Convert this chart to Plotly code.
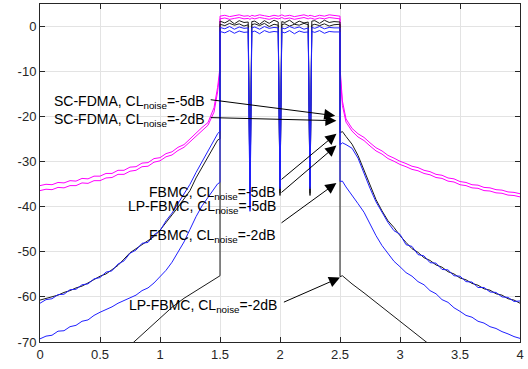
import numpy as np
import plotly.graph_objects as go

# ---------------- data ----------------
x_left = [0.0, 0.05, 0.1, 0.15, 0.2, 0.25, 0.3, 0.35, 0.4, 0.45, 0.5, 0.55, 0.6, 0.65, 0.7, 0.75,
          0.8, 0.85, 0.9, 0.95, 1.0, 1.05, 1.1, 1.15, 1.2, 1.25, 1.3, 1.35, 1.4, 1.45, 1.48, 1.5]
x_right = [2.5, 2.52, 2.55, 2.6, 2.65, 2.7, 2.75, 2.8, 2.85, 2.9, 2.95, 3.0, 3.05, 3.1, 3.15, 3.2,
           3.25, 3.3, 3.35, 3.4, 3.45, 3.5, 3.55, 3.6, 3.65, 3.7, 3.75, 3.8, 3.85, 3.9, 3.95, 4.0]
x_inband = [1.5, 1.54, 1.58, 1.62, 1.66, 1.70, 1.735, 1.75, 1.765, 1.79, 1.83, 1.87, 1.91, 1.95, 1.985,
            2.0, 2.015, 2.04, 2.08, 2.12, 2.16, 2.2, 2.235, 2.25, 2.265, 2.29, 2.33, 2.37, 2.41, 2.45, 2.5]

# SC-FDMA, CL_noise = -5 dB
scfdma5_left = [-35.3, -35.0, -35.1, -34.6, -34.7, -34.2, -34.3, -33.7, -33.8, -33.2, -33.2, -32.6, -32.6,
                -31.9, -31.9, -31.2, -31.1, -30.3, -30.2, -29.3, -29.1, -28.2, -27.8, -26.8, -26.2, -24.9,
                -23.6, -22.4, -21.3, -18.0, -13.5, -9.0]
scfdma5_in = [2.3, 2.5, 2.2, 2.4, 2.6, 2.3, 2.4, 2.2, 2.5, 2.3, 2.6, 2.4, 2.2, 2.5, 2.3, 2.4, 2.6, 2.3,
              2.5, 2.2, 2.4, 2.6, 2.3, 2.5, 2.4, 2.2, 2.5, 2.3, 2.6, 2.4, 2.3]
scfdma5_right = [-9.0, -16.5, -20.5, -22.6, -23.8, -24.6, -25.8, -26.9, -27.6, -28.6, -29.2, -29.9, -30.4,
                 -31.0, -31.3, -31.9, -32.2, -32.8, -33.0, -33.6, -33.8, -34.4, -34.6, -35.1, -35.2, -35.7,
                 -35.8, -36.2, -36.3, -36.7, -36.8, -37.1]

# SC-FDMA, CL_noise = -2 dB
scfdma2_left = [-36.4, -36.1, -36.2, -35.7, -35.8, -35.3, -35.3, -34.7, -34.8, -34.2, -34.2, -33.6, -33.5,
                -32.8, -32.8, -32.1, -31.9, -31.1, -31.0, -30.1, -29.8, -28.9, -28.5, -27.5, -26.8, -25.6,
                -24.3, -23.0, -21.9, -19.0, -14.5, -10.0]
scfdma2_in = [1.7, 1.9, 1.6, 1.8, 2.0, 1.7, 1.8, 1.6, 1.9, 1.7, 2.0, 1.8, 1.6, 1.9, 1.7, 1.8, 2.0, 1.7,
              1.9, 1.6, 1.8, 2.0, 1.7, 1.9, 1.8, 1.6, 1.9, 1.7, 2.0, 1.8, 1.7]
scfdma2_right = [-10.0, -17.5, -21.2, -23.2, -24.5, -25.3, -26.5, -27.6, -28.3, -29.3, -29.9, -30.6, -31.1,
                 -31.7, -32.0, -32.6, -32.9, -33.5, -33.7, -34.3, -34.5, -35.1, -35.3, -35.8, -35.9, -36.4,
                 -36.5, -36.9, -37.0, -37.4, -37.5, -37.8]

# FBMC, CL_noise = -5 dB
fbmc5_left = [-60.7, -60.3, -59.9, -59.6, -59.0, -58.6, -58.0, -57.6, -56.9, -56.2, -55.4, -54.9, -53.9,
              -53.0, -51.6, -50.2, -49.3, -48.4, -47.6, -46.6, -45.2, -43.6, -41.8, -40.1, -38.3, -36.4,
              -33.6, -31.2, -28.9, -26.7, -25.2, -24.9]
fbmc5_in = [1.2, 0.8, 1.4, 0.6, 1.3, 0.9, 1.0, -37.0, 1.1, 1.2, 0.5, 1.3, 0.7, 1.4, 1.0, -37.5, 1.1, 0.9,
            1.4, 0.6, 1.2, 0.8, 1.0, -37.5, 1.2, 1.3, 0.7, 1.4, 0.9, 1.1, 1.0]
fbmc5_right = [-23.6, -23.3, -24.4, -26.1, -28.6, -32.0, -35.4, -38.4, -40.9, -43.1, -44.6, -46.4, -47.9,
               -49.3, -50.1, -51.3, -51.9, -52.9, -53.4, -54.4, -54.9, -55.8, -56.2, -57.0, -57.4, -58.2,
               -58.5, -59.3, -59.6, -60.4, -60.7, -61.4]

# LP-FBMC, CL_noise = -5 dB
lpfbmc5_left = [-61.4, -60.6, -60.4, -59.5, -59.4, -58.4, -58.3, -57.3, -57.1, -56.0, -55.7, -54.5, -54.2,
                -52.7, -52.0, -50.3, -49.6, -48.1, -47.9, -46.2, -45.3, -43.1, -41.4, -39.2, -37.3, -35.0,
                -32.4, -30.0, -27.6, -25.3, -23.8, -23.2]
lpfbmc5_in = [-0.2, -0.5, 0.0, -0.6, -0.1, -0.4, -0.3, -40.5, -0.3, -0.1, -0.6, 0.0, -0.4, -0.2, -0.3,
              -35.5, -0.3, -0.5, 0.0, -0.4, -0.1, -0.6, -0.3, -35.5, -0.2, -0.4, 0.0, -0.5, -0.2, -0.3, -0.3]
lpfbmc5_right = [-26.3, -25.8, -26.2, -27.0, -29.2, -32.6, -35.9, -38.9, -41.2, -43.5, -45.3, -46.1, -48.4,
                 -48.8, -50.6, -50.9, -52.4, -52.5, -53.9, -54.0, -55.3, -55.4, -56.6, -56.7, -57.9, -57.9,
                 -58.9, -59.0, -60.0, -60.1, -61.0, -60.9]

# FBMC, CL_noise = -2 dB
fbmc2_left = [-69.3, -68.7, -68.5, -67.6, -67.5, -66.6, -66.3, -65.4, -65.1, -64.1, -63.4, -62.8, -62.2,
              -61.4, -60.8, -60.1, -59.6, -58.6, -58.0, -56.9, -55.6, -54.1, -52.3, -50.2, -47.8, -45.0,
              -42.2, -39.8, -37.8, -36.1, -34.9, -34.6]
fbmc2_in = [-1.1, -1.4, -0.9, -1.5, -1.0, -1.3, -1.2, -41.0, -1.2, -1.0, -1.6, -0.9, -1.3, -1.1, -1.2,
            -36.0, -1.2, -1.4, -0.9, -1.6, -1.0, -1.3, -1.2, -36.0, -1.1, -1.3, -0.9, -1.5, -1.1, -1.2, -1.2]
fbmc2_right = [-34.4, -34.3, -35.6, -37.6, -39.3, -41.2, -43.9, -46.4, -48.6, -50.3, -52.1, -53.3, -54.6,
               -55.4, -56.6, -57.3, -58.6, -59.3, -60.6, -61.2, -62.4, -63.2, -64.1, -64.5, -65.4, -65.8,
               -66.6, -67.0, -67.7, -68.2, -68.8, -69.2]

# LP-FBMC, CL_noise = -2 dB
lpfbmc2_xleft = [0.7, 0.8, 0.9, 1.0, 1.1, 1.2, 1.3, 1.4, 1.48, 1.5]
lpfbmc2_left = [-72.0, -69.6, -67.1, -64.6, -62.3, -60.3, -58.6, -56.9, -55.5, -55.3]
lpfbmc2_in = [0.5, 0.2, 0.7, 0.3, 0.6, 0.1, 0.4, -37.0, 0.4, 0.6, 0.2, 0.7, 0.0, 0.5, 0.3, -37.0, 0.4,
              0.6, 0.1, 0.5, 0.3, 0.7, 0.4, -37.0, 0.3, 0.5, 0.2, 0.6, 0.1, 0.4, 0.5]
lpfbmc2_xright = [2.5, 2.52, 2.6, 2.7, 2.8, 2.9, 3.0, 3.1, 3.2, 3.3]
lpfbmc2_right = [-55.5, -55.3, -57.1, -59.1, -61.2, -63.3, -65.4, -67.5, -69.6, -71.7]

# annotations: label, text anchor (x, y), arrow tail (x, y), arrow head (x, y)
labels = ["SC-FDMA, CL<sub>noise</sub>=-5dB", "SC-FDMA, CL<sub>noise</sub>=-2dB",
          "FBMC, CL<sub>noise</sub>=-5dB", "LP-FBMC, CL<sub>noise</sub>=-5dB",
          "FBMC, CL<sub>noise</sub>=-2dB", "LP-FBMC, CL<sub>noise</sub>=-2dB"]
label_x = [1.39, 1.39, 1.98, 1.98, 1.98, 1.99]
label_y = [-16.7, -20.7, -36.9, -40.0, -46.4, -62.0]
tail_x = [1.41, 1.41, 2.0, 2.0, 2.0, 2.02]
tail_y = [-16.2, -20.2, -34.2, -37.1, -43.8, -61.3]
head_x = [2.46, 2.47, 2.47, 2.47, 2.47, 2.5]
head_y = [-19.8, -20.9, -23.8, -26.4, -34.7, -55.7]

x_ticks = [0, 0.5, 1, 1.5, 2, 2.5, 3, 3.5, 4]
y_ticks = [-70, -60, -50, -40, -30, -20, -10, 0]

# ---------------- figure ----------------
MAG = "#ff00ff"
BLK = "#1a1a1a"
BLU = "#2020ff"

fig = go.Figure()

def add(xl, yl, yi, xr, yr, color, name):
    fig.add_trace(go.Scatter(
        x=list(xl) + list(x_inband) + list(xr),
        y=list(yl) + list(yi) + list(yr),
        mode="lines", line=dict(color=color, width=1), name=name, showlegend=False))

add(x_left, scfdma5_left, scfdma5_in, x_right, scfdma5_right, MAG, "SC-FDMA -5dB")
add(x_left, scfdma2_left, scfdma2_in, x_right, scfdma2_right, MAG, "SC-FDMA -2dB")
add(lpfbmc2_xleft, lpfbmc2_left, lpfbmc2_in, lpfbmc2_xright, lpfbmc2_right, BLK, "LP-FBMC -2dB")
add(x_left, fbmc5_left, fbmc5_in, x_right, fbmc5_right, BLK, "FBMC -5dB")
add(x_left, lpfbmc5_left, lpfbmc5_in, x_right, lpfbmc5_right, BLU, "LP-FBMC -5dB")
add(x_left, fbmc2_left, fbmc2_in, x_right, fbmc2_right, BLU, "FBMC -2dB")

FONT = "Liberation Sans, Arial, Helvetica, sans-serif"
for i in range(len(labels)):
    fig.add_annotation(x=head_x[i], y=head_y[i], ax=tail_x[i], ay=tail_y[i],
                       xref="x", yref="y", axref="x", ayref="y", text="",
                       showarrow=True, arrowhead=2, arrowsize=2.2, arrowwidth=1,
                       arrowcolor="#000000", standoff=0, startstandoff=0)
    fig.add_annotation(x=label_x[i], y=label_y[i], xref="x", yref="y", text=labels[i],
                       showarrow=False, xanchor="right", yanchor="middle",
                       font=dict(family=FONT, size=14, color="#000000"))

axis_common = dict(showline=True, linecolor="#262626", linewidth=1, mirror="ticks",
                   ticks="inside", ticklen=5, tickcolor="#262626",
                   showgrid=True, gridcolor="#e3e3e3", gridwidth=1, zeroline=False,
                   tickfont=dict(family=FONT, size=13, color="#262626"))

fig.update_xaxes(range=[0, 4], tickvals=x_ticks, ticktext=[f"{v:g}" for v in x_ticks], **axis_common)
fig.update_yaxes(range=[-70, 5], tickvals=y_ticks, ticktext=[f"{v:g}" for v in y_ticks], **axis_common)

fig.update_layout(width=528, height=369, margin=dict(l=40, r=8, t=4, b=27),
                  paper_bgcolor="white", plot_bgcolor="white", showlegend=False)

fig.write_html("out.html")
